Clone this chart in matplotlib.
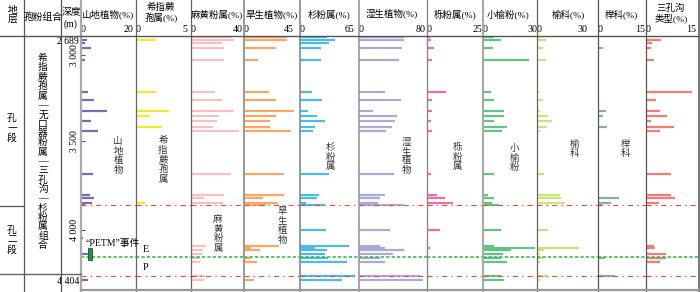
import numpy as np
import matplotlib
matplotlib.use("Agg")
import matplotlib.pyplot as plt
from matplotlib.lines import Line2D
from matplotlib.patches import Rectangle

plt.rcParams["font.family"] = ["Liberation Serif", "Noto Sans CJK SC", "DejaVu Sans"]
plt.rcParams["lines.scale_dashes"] = False

W, H = 700, 292

# sample depths (m)
depths = [2689, 2741, 2793, 2879, 3029, 3215, 3262, 3326, 3355, 3384, 3419, 3442,
          3685, 3803, 3820, 3848, 3860, 4000, 4065, 4129, 4145, 4162, 4194, 4226,
          4259, 4372, 4404]

# percentages per taxon, one value per sample depth (0 = not drawn)
shandi = [0, 2.6, 1.7, 4.3, 1.7, 3.0, 5.5, 11.0, 0, 4.3, 0, 7.2, 5.1, 3.8, 5.5, 4.7,
          1.7, 0, 0.9, 0, 0, 0, 3.0, 0, 0, 0, 3.0]
xizhijue = [0, 2.0, 0, 0, 0, 2.0, 0, 3.4, 1.4, 0, 2.7, 0, 0, 0, 0, 0.9,
            0, 0, 0, 0, 0, 0, 0, 0, 0, 0, 0]
mahuang = [35, 36.7, 26, 28, 28, 20, 26.5, 36.7, 24, 22, 18.6, 40.5, 34, 28, 11, 27,
           0, 0, 0, 13, 0, 10, 9, 7.5, 8, 12, 11]
hansheng = [43, 43, 0, 32, 14, 25, 32, 50, 32, 26, 26, 47, 40, 40, 19, 34,
            22, 0, 0, 35, 7, 16, 0, 7, 13, 0, 10]
shan = [35, 45, 38, 27, 27, 15, 28, 10, 22.5, 33, 19.5, 16.5, 38, 25, 22.5, 8,
        32.5, 33.5, 0, 64, 19.5, 35.5, 32.5, 36, 61.5, 71, 55]
shisheng = [58, 58, 0, 56, 51, 34, 54, 18, 49, 47, 42.5, 35, 45, 33, 27.5, 24.5,
            58, 40, 0, 27.5, 34, 58, 44, 27, 33, 79, 82]
li = [1.5, 2, 0, 3.5, 2.5, 9.5, 2.7, 2.3, 0, 2, 0, 2.7, 2, 5, 9, 13,
      0, 6.7, 0, 0, 1.3, 0, 0, 0, 0, 0, 0]
xiaoyu = [7, 11, 0, 6, 28, 4.7, 6.7, 13, 13, 6.7, 14.5, 11.5, 6.7, 3, 7, 5.7,
          10, 11, 0, 6.7, 32, 17, 12, 11, 14.5, 11, 13]
yuke = [2, 5.7, 0, 4, 6, 1.3, 4, 1.7, 7.4, 10, 6.5, 2.2, 4.4, 15, 15.5, 18,
        0, 7.4, 0, 0, 27.5, 4.4, 1.7, 4, 2.2, 6.5, 2.2]
juke = [0, 0, 0, 1.8, 0, 0, 0, 2.7, 1.8, 0, 3.3, 0, 0, 0, 7.4, 4.8,
        1.3, 0, 0, 0, 0, 0, 0, 2.4, 0, 6.2, 0]
sankou = [0, 4.9, 2.1, 1.8, 2.6, 15.4, 3.4, 4.6, 7, 1.8, 9.2, 4.8, 8.4, 8.4, 9.6, 4.2,
          0, 0, 0, 2.7, 3.1, 0, 6.8, 6.8, 4.6, 0, 0]

series = [shandi, xizhijue, mahuang, hansheng, shan, shisheng, li, xiaoyu, yuke, juke, sankou]
titles = ["山地植物(%)", "希指蕨\n孢属(%)", "麻黄粉属(%)", "旱生植物(%)", "杉粉属(%)",
          "湿生植物(%)", "栎粉属(%)", "小榆粉(%)", "榆科(%)", "榉科(%)", "三孔沟\n类型(%)"]
inner_labels = ["山地植物", "希指蕨孢属", "麻黄粉属", "旱生植物", "杉粉属", "湿生植物",
                "栎粉属", "小榆粉", "榆科", "榉科", None]
tick_max = [20, 5, 40, 45, 65, 80, 25, 30, 30, 15, 15]
colors = ["#7b6bb5", "#f2ea2e", "#f8c0c4", "#f7a868", "#4dbbe3", "#aaaad6",
          "#f06ea6", "#62c384", "#cfe07f", "#88b09a", "#f47c74"]

depth_ticks = [2689, 3000, 3500, 4000, 4404]
depth_labels = ["2 689", "3 000", "3 500", "4 000", "4 404"]

boundaries = [3860, 4372]          # red dash-dot
petm_line = 4218                   # green dashed
petm_range = (4145, 4242)

assemblage = "希指蕨孢属—无口器粉属—三孔沟—杉粉属组合"

# --- layout in pixels of the source figure --------------------------------
col_edges = [81, 136, 191, 244, 300, 359, 427, 483, 537, 598, 646, 700]
max_px = [128, 185, 238, 289, 350, 421, 477, 532, 583, 640, 691]
title_x = [108, 161, 217, 272, 329, 392, 455, 508, 568, 621, 671]
inner_xy = [(118, 156), (163, 160), (218, 234), (282, 226), (330, 157), (406, 156),
            (457, 157), (514, 158), (574, 149), (625, 149)]
top_px, bot_px = 36, 290

# the source depth axis is not linear; follow its labelled ticks
_d = [2680, 2689, 3000, 3500, 4000, 4404, 4485]
_p = [36, 37, 55, 141, 230, 280, 290]


def fwd(d):
    return np.interp(d, _d, _p)


def inv(p):
    return np.interp(p, _p, _d)


def fx(x):
    return x / W


def fy(y):
    return 1 - y / H


fig = plt.figure(figsize=(W / 100, H / 100), dpi=100)


def line(xs, ys, **kw):
    fig.add_artist(Line2D([fx(x) for x in xs], [fy(y) for y in ys],
                          transform=fig.transFigure, **kw))


axes = []
for i, vals in enumerate(series):
    L, R = col_edges[i], col_edges[i + 1]
    ax = fig.add_axes([fx(L), fy(bot_px), (R - L) / W, (bot_px - top_px) / H])
    ax.set_yscale("function", functions=(fwd, inv))
    ax.set_ylim(_d[-1], _d[0])
    ax.set_xlim(0, tick_max[i] * (R - L) / (max_px[i] - L))
    ax.patch.set_visible(False)
    for s in ax.spines.values():
        s.set_visible(False)

    d = np.array(depths, dtype=float)
    v = np.array(vals, dtype=float)
    keep = v > 0
    ax.hlines(d[keep], 0, v[keep], colors=colors[i], lw=1.6)

    for b in boundaries:
        ax.axhline(b, color="#e8453c", lw=0.8, dashes=(3.6, 3, 1, 3))
    ax.axhline(petm_line, color="#2db34a", lw=1.1, dashes=(2.4, 1.5))

    ax.xaxis.set_ticks_position("top")
    ax.set_xticks([0, tick_max[i]], ["0", str(tick_max[i])])
    ax.tick_params(axis="x", length=0, pad=1.2, labelsize=7.2)
    ax.get_xticklabels()[0].set_horizontalalignment("left")

    if i == 0:
        ax.set_yticks(depth_ticks, depth_labels)
        ax.tick_params(axis="y", direction="in", length=3, width=0.8,
                       color="#555555", pad=1.5, labelsize=7)
        ticks = ax.yaxis.get_major_ticks()
        for k, t in enumerate(ticks):
            lab = t.label1
            if k in (0, len(ticks) - 1):
                t.tick1line.set_visible(False)
                if k == 0:
                    lab.set_verticalalignment("top")
            else:
                lab.set_rotation(90)
                lab.set_verticalalignment("center")
    else:
        ax.set_yticks([])
    axes.append(ax)

    fig.text(fx(title_x[i]), fy(14 if "\n" not in titles[i] else 13), titles[i],
             ha="center", va="center", fontsize=6.8, linespacing=1.05,
             multialignment="center")
    if inner_labels[i]:
        x, y = inner_xy[i]
        fig.text(fx(x), fy(y), "\n".join(inner_labels[i]), ha="center", va="center",
                 fontsize=6.8, linespacing=1.08, color="#333333")

# PETM marker
ax0 = axes[0]
ax0.add_patch(Rectangle((0.127, petm_range[0]), 0.07, petm_range[1] - petm_range[0],
                        transform=ax0.get_yaxis_transform(), facecolor="#1a9a40",
                        edgecolor="#222222", lw=0.5, zorder=5))
fig.text(fx(86), fy(243), "“PETM”事件", ha="left", va="center", fontsize=7)
fig.text(fx(146), fy(250), "E", ha="center", va="center", fontsize=7.5)
fig.text(fx(146), fy(267), "P", ha="center", va="center", fontsize=7.5)

# table grid
border_style = {81: ("#aaaaaa", 1.6), 136: ("#666666", 0.9), 191: ("#666666", 0.9),
                244: ("#999999", 1.4), 300: ("#888888", 1.2), 359: ("#999999", 1.2),
                427: ("#888888", 1.0), 483: ("#aaaaaa", 1.6), 537: ("#666666", 0.9),
                598: ("#555555", 0.9), 646: ("#555555", 0.9), 700: ("#777777", 1.4)}
for x, (c, lw) in border_style.items():
    xx = 699.3 if x == 700 else x
    line([xx, xx], [0, 292], color=c, lw=lw)
for x in (24, 61):
    line([x, x], [0, 292], color="#555555", lw=0.9)
line([0, 700], [36, 36], color="#555555", lw=1.0)
line([0, 24], [206, 206], color="#555555", lw=0.9)
line([0, 81], [274, 274], color="#666666", lw=1.0)
line([81, 700], [290, 290], color="#999999", lw=1.6)

# header and left columns
fig.text(fx(13), fy(15), "地\n层", ha="center", va="center", fontsize=7, linespacing=1.0)
fig.text(fx(43), fy(17), "孢粉组合", ha="center", va="center", fontsize=7)
fig.text(fx(71), fy(12), "深度", ha="center", va="center", fontsize=7)
fig.text(fx(71), fy(24), "(m)", ha="center", va="center", fontsize=7)
fig.text(fx(12), fy(128), "孔\n一\n段", ha="center", va="center", fontsize=7, linespacing=1.1)
fig.text(fx(12), fy(240), "孔\n二\n段", ha="center", va="center", fontsize=7, linespacing=1.1)
fig.text(fx(43), fy(152), "\n".join(assemblage), ha="center", va="center",
         fontsize=7, linespacing=1.04)

fig.savefig("out.png", dpi=100)
